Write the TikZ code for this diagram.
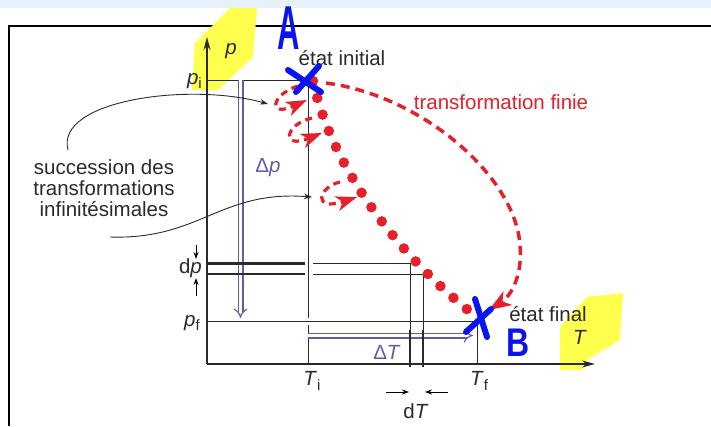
\documentclass[tikz,border=0pt]{standalone}
\usepackage{fontspec}
\setmainfont{Liberation Sans}
\usepackage{tikz}
\usetikzlibrary{arrows.meta}
\definecolor{diagRed}{HTML}{E5202A}
\definecolor{diagBlue}{HTML}{5E5EA6}
\definecolor{penBlue}{HTML}{0A14F0}
\definecolor{markYellow}{HTML}{FFFF4D}
\definecolor{stripBlue}{HTML}{E6F2FB}
\definecolor{inkGray}{HTML}{2A2A2A}
\newcommand{\lowidx}[1]{\raisebox{-0.22em}{\fontsize{15}{15}\selectfont #1}}

\begin{document}
\begin{tikzpicture}[x=1pt,y=-1pt,font=\fontsize{20.5}{21}\selectfont,
    axis/.style={draw=inkGray,line width=1.3pt,-{Stealth[length=13pt,width=7pt]}},
    guide/.style={draw=inkGray,line width=1pt},
    leader/.style={draw=inkGray,line width=0.9pt,-{Stealth[length=8pt,width=5.5pt]}},
    tick/.style={draw=black,line width=0.9pt,-{Stealth[length=7pt,width=5pt]}},
    delta/.style={draw=diagBlue,line width=1.2pt,double=white,double distance=3.6pt,
      -{Implies[length=9pt,width=15pt]}},
    dots/.style={draw=diagRed,line width=10.5pt,line cap=round,dash pattern=on 0pt off 17.5pt},
    infini/.style={draw=diagRed,line width=3.2pt,dash pattern=on 7pt off 5pt,
      -{Stealth[length=21pt,width=15pt,inset=6pt]}},
    finie/.style={draw=diagRed,line width=3.5pt,dash pattern=on 9pt off 6pt,
      -{Stealth[length=22pt,width=16pt,inset=6pt]}},
    pen/.style={draw=penBlue,line width=6pt,line cap=round},
    lbl/.style={text=inkGray,inner sep=1pt},
    penlbl/.style={text=penBlue,inner sep=0pt}]
  \useasboundingbox (0,0) rectangle (711,426);
  % page strip, frame and marker highlights
  \fill[stripBlue] (0,0) rectangle (711,8);
  \draw[black,line width=2pt] (9,426) -- (9,26) -- (711,26);
  \fill[markYellow] (192,90) -- (195,43) -- (230,8) -- (257,8) -- (253,57) -- (218,90) -- cycle;
  \fill[markYellow] (560,327) -- (587,297) -- (623,293) -- (620,340) -- (587,360) -- (582,370) -- (560,370) -- cycle;

  \coordinate (O) at (207,364);
  \coordinate (A) at (308,80);
  \coordinate (B) at (477,321);

  % axes
  \draw[axis] (O) -- (207,37);
  \draw[axis] (O) -- (595,364);
  \node[lbl] (plab) at (231,51) {\textit{p}};
  \node[lbl] (Tlab) at (580,337) {\textit{T}};

  % construction lines
  \draw[guide] (207,80) -- (A) -- (308,318);
  \draw[guide] (308,325) -- (308,364);
  \draw[guide] (207,321) -- (B) -- (477,364);
  \draw[delta] (240.5,80) -- (240.5,318);
  \draw[delta] (308,335.5) -- (473,335.5);
  \draw[draw=inkGray,line width=3pt] (207,263) -- (305,263);
  \draw[guide,line width=1.6pt] (207,274) -- (305,274);
  \draw[guide] (313,263) -- (410,263) -- (410,367);
  \draw[guide] (313,274) -- (423,274) -- (423,367);
  \draw[guide,line width=1.6pt] (410,330) -- (410,367) (423,330) -- (423,367);

  % labels on the axes
  \node[lbl,anchor=east] (pi) at (203,81) {\textit{p}\lowidx{i}};
  \node[lbl,anchor=east] (dp) at (203,268) {d\textit{p}};
  \node[lbl,anchor=east] (pf) at (201,323) {\textit{p}\lowidx{f}};
  \node[lbl] (Ti) at (312,381) {\textit{T}\lowidx{i}};
  \node[lbl] (Tf) at (479,381) {\textit{T}\lowidx{f}};
  \node[lbl] (dT) at (416,411) {d\textit{T}};
  \node[lbl,text=diagBlue] (dpbig) at (268,168) {Δ\textit{p}};
  \node[lbl,text=diagBlue] (dTbig) at (387,352) {Δ\textit{T}};
  \draw[tick] (196,245) -- (196,259);
  \draw[tick] (196,296) -- (196,278);
  \draw[tick] (386,392) -- (409,392);
  \draw[tick] (448,392) -- (425,392);

  % transformations
  \draw[dots] (313,81) .. controls (330,160) and (390,250) .. (478,318);
  \draw[infini] (298,86) .. controls (270,95) and (268,118) .. (307,100);
  \draw[infini] (312,118) .. controls (285,124) and (280,150) .. (322,133);
  \draw[infini] (340,182) .. controls (318,187) and (312,212) .. (357,197);
  \draw[finie] (326,83) .. controls (420,95) and (515,175) .. (520,245)
    .. controls (523,280) and (508,298) .. (489,310);
  \node[lbl,text=diagRed] (fin) at (501,102) {transformation finie};
  \node[lbl] (ini) at (342,58) {état initial};
  \node[lbl] (end) at (548,314) {état final};

  % leaders to the small steps
  \node[lbl,align=center] (succ) at (104,188)
    {succession des\\transformations\\infinitésimales};
  \coordinate (lead1) at (68,150);
  \coordinate (lead2) at (110,237);
  \draw[leader] (lead1) .. controls (55,100) and (190,82) .. (268,104);
  \draw[leader] (lead2) .. controls (200,240) and (220,190) .. (312,197);

  % pen marks
  \draw[pen] (288,70) -- (321,92);
  \draw[pen] (296,92) -- (319,66);
  \draw[pen] (475,299) -- (487,337);
  \draw[pen] (466,332) -- (491,309);
  \node[penlbl,font=\fontsize{62}{62}\selectfont\bfseries] (Amark) at (289,28) {\scalebox{0.5}[1]{A}};
  \node[penlbl,font=\fontsize{40}{40}\selectfont\bfseries] (Bmark) at (518,343) {\scalebox{0.8}[1]{B}};
\end{tikzpicture}
\end{document}
